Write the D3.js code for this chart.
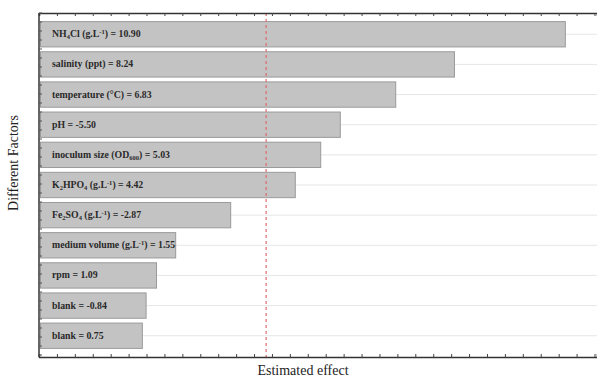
<!DOCTYPE html>
<html>
<head>
<meta charset="utf-8">
<script src="https://cdn.jsdelivr.net/npm/d3@7"></script>
<style>
  body { margin: 0; background: #fff; }
  svg { display: block; }
</style>
</head>
<body>
<svg id="chart" width="597" height="380"></svg>
<script>
// factor labels as parts: [text, baseline] ; "sub" / "sup" / null
var factors = [
  [["NH", null], ["4", "sub"], ["Cl (g.L", null], ["-1", "sup"], [")", null]],
  [["salinity (ppt)", null]],
  [["temperature (°C)", null]],
  [["pH", null]],
  [["inoculum size (OD", null], ["600", "sub"], [")", null]],
  [["K", null], ["2", "sub"], ["HPO", null], ["4", "sub"], [" (g.L", null], ["-1", "sup"], [")", null]],
  [["Fe", null], ["2", "sub"], ["SO", null], ["4", "sub"], [" (g.L", null], ["-1", "sup"], [")", null]],
  [["medium volume (g.L", null], ["-1", "sup"], [")", null]],
  [["rpm", null]],
  [["blank", null]],
  [["blank", null]]
]
var effects = [10.90, 8.24, 6.83, -5.50, 5.03, 4.42, -2.87, 1.55, 1.09, -0.84, 0.75]
var threshold = 3.72
var xDomain = [-1.73, 11.66]

var svg = d3.select("#chart")
var margin = {left: 39, top: 13, right: 0, bottom: 23}
var width = 597 - margin.left - margin.right
var height = 380 - margin.top - margin.bottom

var x = d3.scaleLinear().domain(xDomain).range([0, width])
var y = d3.scaleBand().domain(d3.range(effects.length)).range([8, height - 8]).paddingInner(0.16).paddingOuter(0.02)

var g = svg.append("g").attr("transform", "translate(" + margin.left + "," + margin.top + ")")

// faint guide lines at each row centre
g.append("g").selectAll("line")
  .data(effects)
  .enter().append("line")
  .attr("x1", 0).attr("x2", width)
  .attr("y1", function(d, i) { return y(i) + y.bandwidth() / 2 })
  .attr("y2", function(d, i) { return y(i) + y.bandwidth() / 2 })
  .attr("stroke", "#e6e6e6").attr("stroke-width", 1)

// bars, length = absolute effect
g.append("g").selectAll("rect")
  .data(effects)
  .enter().append("rect")
  .attr("x", x(xDomain[0]) + 1.5)
  .attr("y", function(d, i) { return y(i) })
  .attr("width", function(d) { return x(Math.abs(d)) - x(xDomain[0]) - 1.5 })
  .attr("height", y.bandwidth())
  .attr("fill", "#c3c3c3")
  .attr("stroke", "#9a9a9a").attr("stroke-width", 1)

// labels inside bars
var lab = g.append("g").selectAll("text")
  .data(effects)
  .enter().append("text")
  .attr("x", 13)
  .attr("y", function(d, i) { return y(i) + y.bandwidth() / 2 + 3 })
  .attr("font-family", "Liberation Serif, serif")
  .attr("font-weight", "bold")
  .attr("font-size", 9.8)
  .attr("fill", "#2a2a2a")

lab.each(function(d, i) {
  var t = d3.select(this)
  var shift = 0
  factors[i].forEach(function(p) {
    var s = t.append("tspan").text(p[0])
    var want = p[1] == "sub" ? 2 : (p[1] == "sup" ? -3.5 : 0)
    if (p[1]) s.attr("font-size", 6.5)
    if (want != shift) s.attr("dy", want - shift)
    shift = want
  })
  // value part, back on the baseline
  var v = t.append("tspan").text(" = " + d.toFixed(2))
  if (shift != 0) v.attr("dy", -shift)
})

// threshold line
g.append("line")
  .attr("x1", x(threshold)).attr("x2", x(threshold))
  .attr("y1", 0).attr("y2", height)
  .attr("stroke", "#e06a6a").attr("stroke-width", 1.2)
  .attr("stroke-dasharray", "3,3")

// frame: top, left, bottom axes with small ticks
var tickVals = d3.range(xDomain[0], xDomain[1], 0.43)
var topAxis = d3.axisTop(x).tickValues(tickVals).tickSize(-3).tickFormat("")
var botAxis = d3.axisBottom(x).tickValues(tickVals).tickSize(-3).tickFormat("")
g.append("g").call(topAxis).call(function(a) {
  a.select(".domain").attr("stroke", "#333").attr("stroke-width", 1.5)
  a.selectAll(".tick line").attr("stroke", "#444")
})
g.append("g").attr("transform", "translate(0," + height + ")").call(botAxis).call(function(a) {
  a.select(".domain").attr("stroke", "#333").attr("stroke-width", 1.5)
  a.selectAll(".tick line").attr("stroke", "#444")
})
var yTicks = d3.range(0, height, 9)
g.append("line").attr("x1", 0).attr("x2", 0).attr("y1", 0).attr("y2", height)
  .attr("stroke", "#333").attr("stroke-width", 1.5)
g.append("g").selectAll("line.yt")
  .data(yTicks)
  .enter().append("line")
  .attr("x1", 0).attr("x2", 3)
  .attr("y1", function(d) { return d }).attr("y2", function(d) { return d })
  .attr("stroke", "#555")

// axis titles
svg.append("text")
  .attr("x", 303).attr("y", 375)
  .attr("text-anchor", "middle")
  .attr("font-family", "Liberation Serif, serif")
  .attr("font-size", 14)
  .attr("fill", "#222")
  .text("Estimated effect")

svg.append("text")
  .attr("transform", "translate(18,163) rotate(-90)")
  .attr("text-anchor", "middle")
  .attr("font-family", "Liberation Serif, serif")
  .attr("font-size", 14)
  .attr("fill", "#222")
  .text("Different Factors")
</script>
</body>
</html>
